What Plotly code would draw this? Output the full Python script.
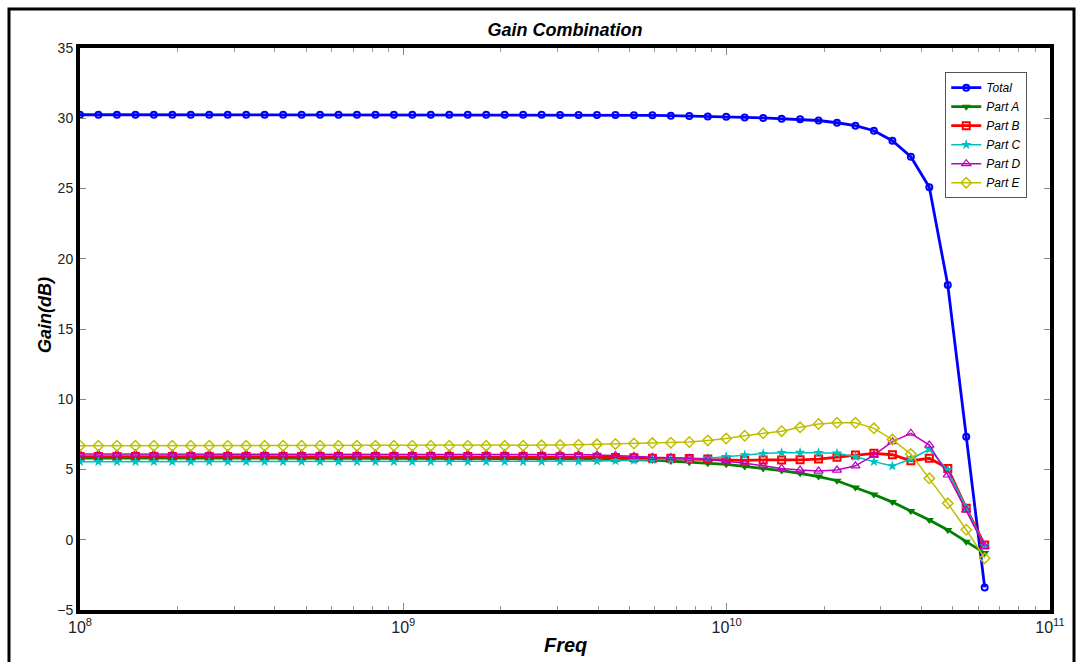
import plotly.graph_objects as go

freq = [1.000e8, 1.140e8, 1.301e8, 1.484e8, 1.692e8, 1.930e8, 2.201e8, 2.510e8, 2.863e8, 3.265e8,
        3.724e8, 4.248e8, 4.845e8, 5.525e8, 6.302e8, 7.188e8, 8.198e8, 9.350e8, 1.066e9, 1.216e9,
        1.387e9, 1.582e9, 1.804e9, 2.058e9, 2.347e9, 2.677e9, 3.053e9, 3.482e9, 3.971e9, 4.529e9,
        5.166e9, 5.892e9, 6.720e9, 7.664e9, 8.741e9, 9.968e9, 1.137e10, 1.297e10, 1.479e10, 1.687e10,
        1.924e10, 2.194e10, 2.502e10, 2.854e10, 3.255e10, 3.712e10, 4.234e10, 4.829e10, 5.508e10, 6.280e10]

total = [30.25, 30.25, 30.25, 30.25, 30.25, 30.25, 30.25, 30.25, 30.25, 30.25,
         30.25, 30.25, 30.25, 30.25, 30.25, 30.25, 30.25, 30.25, 30.25, 30.25,
         30.25, 30.25, 30.25, 30.25, 30.25, 30.25, 30.24, 30.24, 30.23, 30.23,
         30.22, 30.21, 30.18, 30.16, 30.12, 30.10, 30.06, 30.02, 29.97, 29.92,
         29.84, 29.68, 29.47, 29.11, 28.40, 27.26, 25.09, 18.13, 7.33, -3.39]

part_a = [5.82, 5.82, 5.82, 5.82, 5.82, 5.82, 5.82, 5.82, 5.82, 5.82,
          5.82, 5.82, 5.82, 5.82, 5.82, 5.82, 5.82, 5.82, 5.82, 5.82,
          5.82, 5.82, 5.82, 5.81, 5.80, 5.79, 5.78, 5.76, 5.74, 5.72,
          5.70, 5.67, 5.60, 5.52, 5.45, 5.37, 5.22, 5.08, 4.92, 4.73,
          4.50, 4.20, 3.72, 3.22, 2.68, 2.05, 1.40, 0.70, -0.15, -0.95]

part_b = [5.92, 5.92, 5.92, 5.92, 5.92, 5.92, 5.92, 5.92, 5.92, 5.92,
          5.92, 5.92, 5.92, 5.92, 5.92, 5.92, 5.92, 5.92, 5.92, 5.92,
          5.92, 5.92, 5.92, 5.92, 5.92, 5.92, 5.91, 5.90, 5.88, 5.86,
          5.83, 5.80, 5.80, 5.79, 5.74, 5.69, 5.65, 5.68, 5.68, 5.69,
          5.74, 5.87, 6.03, 6.15, 6.05, 5.62, 5.80, 5.08, 2.24, -0.37]

part_c = [5.56, 5.56, 5.56, 5.56, 5.56, 5.56, 5.56, 5.56, 5.56, 5.56,
          5.56, 5.56, 5.56, 5.56, 5.56, 5.56, 5.56, 5.56, 5.56, 5.56,
          5.56, 5.56, 5.56, 5.56, 5.56, 5.56, 5.57, 5.58, 5.60, 5.62,
          5.65, 5.68, 5.70, 5.73, 5.80, 5.91, 6.03, 6.13, 6.20, 6.21,
          6.20, 6.15, 5.91, 5.56, 5.25, 5.75, 6.44, 4.96, 2.24, -0.45]

part_d = [6.10, 6.10, 6.10, 6.10, 6.10, 6.10, 6.10, 6.10, 6.10, 6.10,
          6.10, 6.10, 6.10, 6.10, 6.10, 6.10, 6.10, 6.10, 6.10, 6.10,
          6.10, 6.10, 6.10, 6.10, 6.10, 6.09, 6.08, 6.06, 6.03, 6.00,
          5.94, 5.87, 5.85, 5.80, 5.73, 5.61, 5.44, 5.27, 5.08, 4.96,
          4.89, 4.96, 5.26, 6.03, 6.98, 7.58, 6.74, 4.61, 2.12, -0.47]

part_e = [6.69, 6.69, 6.69, 6.69, 6.69, 6.69, 6.69, 6.69, 6.69, 6.69,
          6.69, 6.69, 6.69, 6.69, 6.69, 6.69, 6.69, 6.69, 6.69, 6.69,
          6.69, 6.69, 6.69, 6.69, 6.69, 6.72, 6.74, 6.76, 6.79, 6.82,
          6.85, 6.88, 6.91, 6.96, 7.07, 7.20, 7.40, 7.58, 7.73, 8.00,
          8.24, 8.33, 8.33, 7.93, 7.13, 6.10, 4.37, 2.59, 0.71, -1.31]

x_major = [1e8, 1e9, 1e10, 1e11]
x_major_text = ["10<sup>8</sup>", "10<sup>9</sup>", "10<sup>10</sup>", "10<sup>11</sup>"]
x_minor = [m * d for d in [1e8, 1e9, 1e10] for m in range(2, 10)]
y_ticks = [-5, 0, 5, 10, 15, 20, 25, 30, 35]

FONT = "Arial, Liberation Sans, sans-serif"

fig = go.Figure()
series = [
    ("Total", total, "#0000FF", 2.8, dict(symbol="circle-open", size=6, line=dict(width=2))),
    ("Part A", part_a, "#008000", 2.8, dict(symbol="triangle-down", size=8)),
    ("Part B", part_b, "#FF0000", 2.8, dict(symbol="square-open", size=7, line=dict(width=2))),
    ("Part C", part_c, "#00BFBF", 1.5, dict(symbol="star", size=8)),
    ("Part D", part_d, "#BF00BF", 1.5, dict(symbol="triangle-up-open", size=8, line=dict(width=1.2))),
    ("Part E", part_e, "#BFBF00", 1.5, dict(symbol="diamond-open", size=8, line=dict(width=1.5))),
]
for name, ys, col, lw, mk in series:
    mk = dict(mk)
    mk["color"] = col
    if "line" in mk:
        mk["line"] = dict(mk["line"], color=col)
    fig.add_trace(go.Scatter(x=freq, y=ys, name=name, mode="lines+markers",
                             line=dict(color=col, width=lw), marker=mk))

fig.update_layout(
    width=1081, height=662,
    margin=dict(l=80, r=31, t=48, b=52),
    paper_bgcolor="white", plot_bgcolor="white",
    font=dict(family=FONT, color="#222222", size=13),
    title=dict(text="Gain Combination", x=0.5, xref="paper", xanchor="center",
               y=1 - 30 / 662, yanchor="middle",
               font=dict(family=FONT, size=18, color="black", weight="bold", style="italic")),
    legend=dict(x=0.892, y=0.957, xanchor="left", yanchor="top",
                bgcolor="white", bordercolor="#555555", borderwidth=1,
                font=dict(family=FONT, size=12, color="black", style="italic"),
                tracegroupgap=0, itemwidth=30),
    showlegend=True,
)

fig.update_xaxes(
    type="log", range=[8, 11], automargin=False,
    tickvals=x_major, ticktext=x_major_text,
    ticks="inside", ticklen=7, tickcolor="#888888", tickwidth=1,
    minor=dict(tickvals=x_minor, ticks="inside", ticklen=4, tickcolor="#999999", showgrid=False),
    showgrid=False, zeroline=False,
    showline=True, linecolor="black", linewidth=4, mirror="ticks",
    tickfont=dict(family=FONT, size=16, color="#222222"),
)
fig.update_yaxes(
    range=[-5, 35], tickvals=y_ticks, automargin=False,
    ticks="inside", ticklen=6, tickcolor="#888888", tickwidth=1,
    showgrid=False, zeroline=False,
    showline=True, linecolor="black", linewidth=4, mirror="ticks",
    tickfont=dict(family=FONT, size=14, color="#222222"),
)


def px2x(px):
    return (px - 80) / 970.0


def py2y(py):
    return (610 - py) / 562.0


fig.add_annotation(text="Freq", xref="paper", yref="paper", x=px2x(565), y=py2y(645),
                   xanchor="center", yanchor="middle", showarrow=False,
                   font=dict(family=FONT, size=20, color="black", weight="bold", style="italic"))
fig.add_annotation(text="Gain(dB)", xref="paper", yref="paper", x=px2x(45), y=py2y(315),
                   xanchor="center", yanchor="middle", showarrow=False, textangle=-90,
                   font=dict(family=FONT, size=18, color="black", weight="bold", style="italic"))

# outer figure frame
fig.add_shape(type="path", xref="paper", yref="paper",
              path="M %f %f L %f %f L %f %f L %f %f" % (
                  px2x(9), py2y(665), px2x(9), py2y(9),
                  px2x(1074), py2y(9), px2x(1074), py2y(665)),
              line=dict(color="black", width=3), layer="above")

fig.write_html("out.html")
